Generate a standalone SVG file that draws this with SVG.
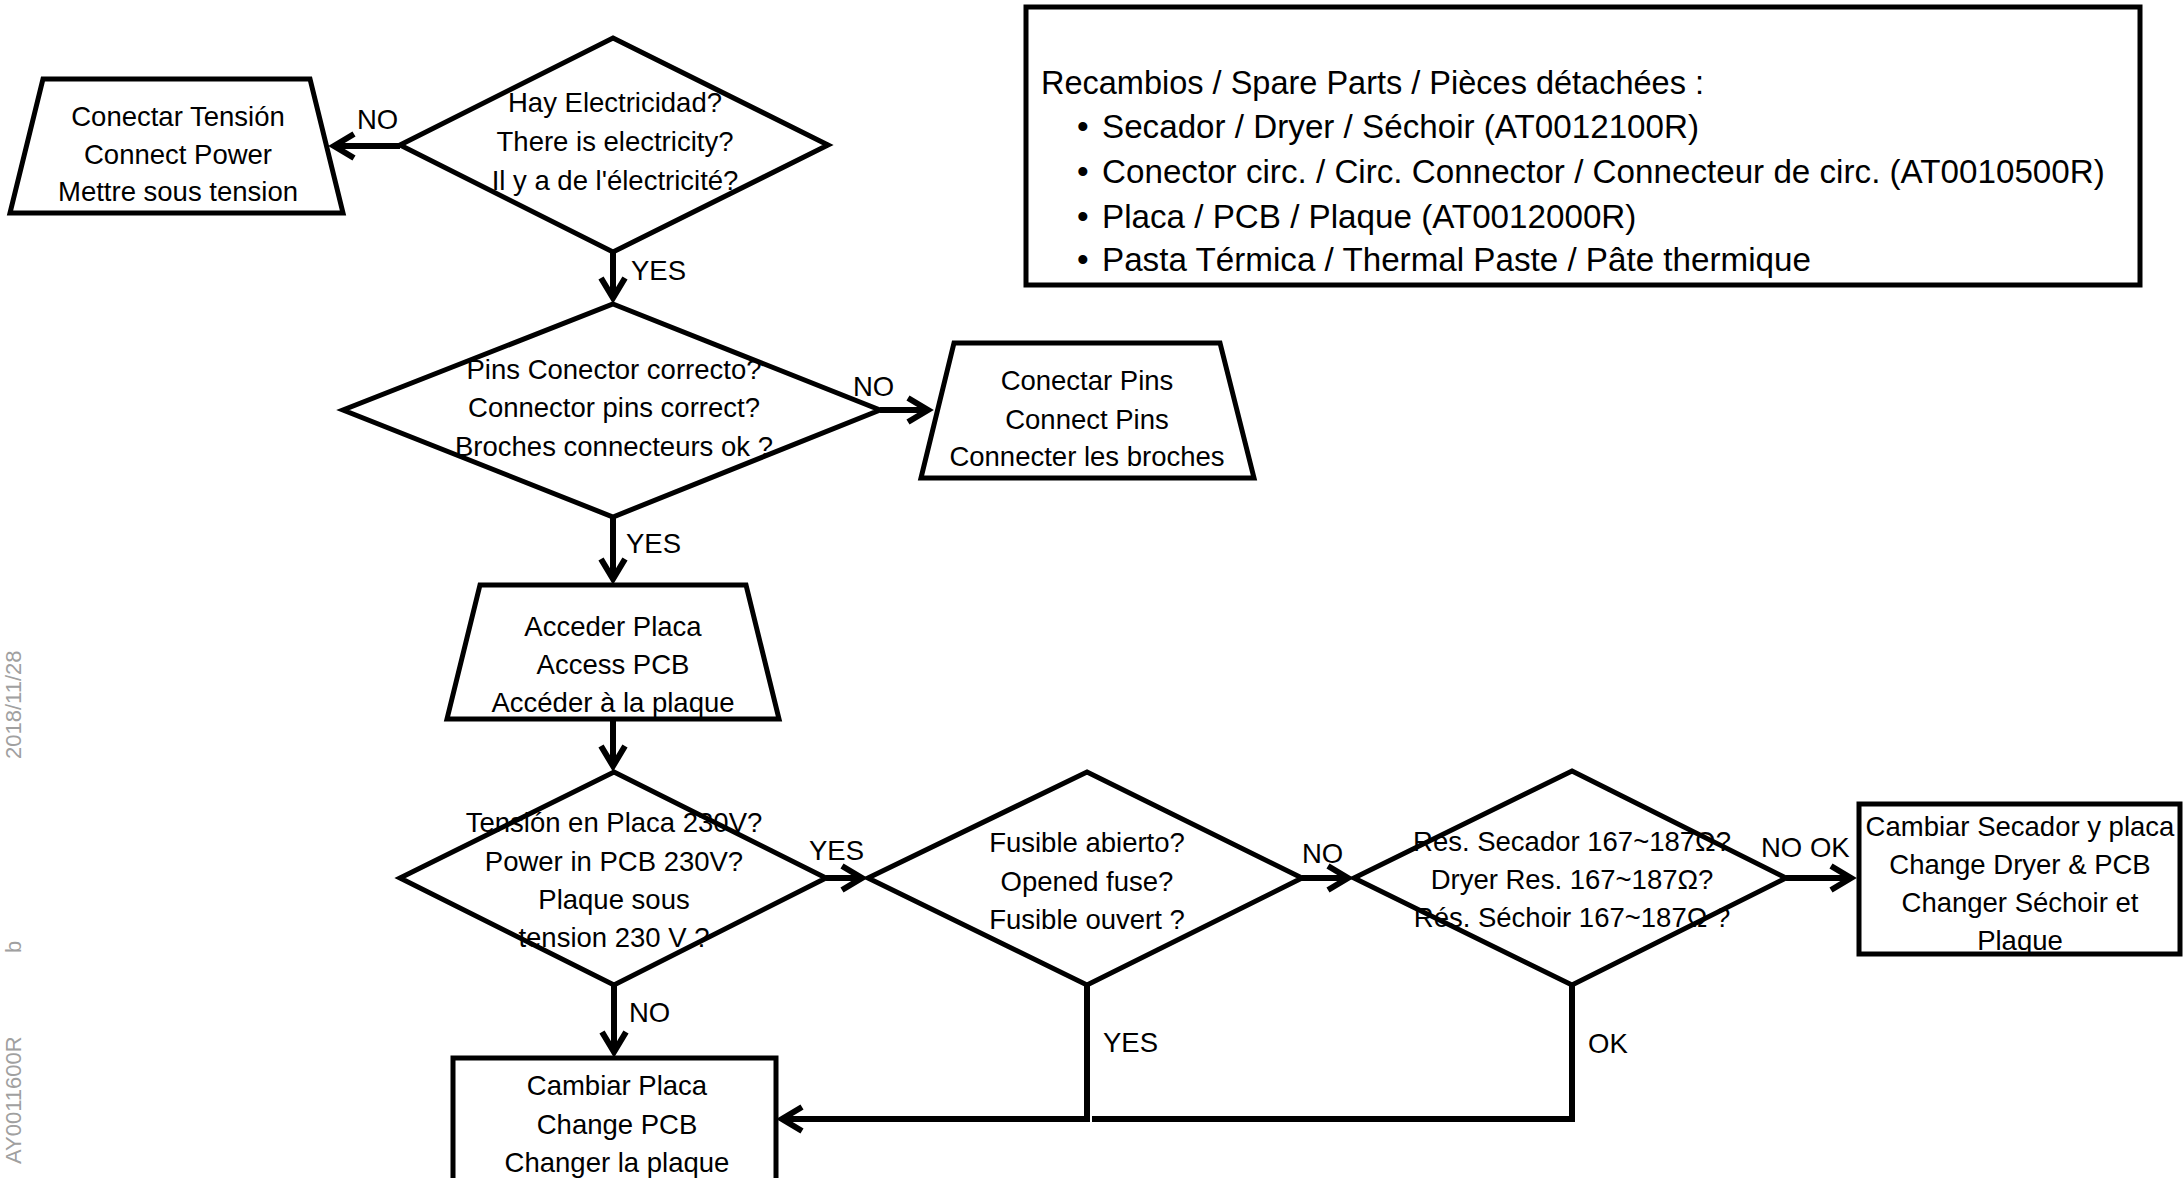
<svg xmlns="http://www.w3.org/2000/svg" width="2183" height="1178" viewBox="0 0 2183 1178">
<style>
.shape{fill:#fff;stroke:#000;stroke-width:5;stroke-linejoin:miter}
.t{font-family:"Liberation Sans",Arial,sans-serif;font-size:27.5px;fill:#000;text-anchor:middle}
.lbl{font-family:"Liberation Sans",Arial,sans-serif;font-size:27.5px;fill:#000}
.parts{font-family:"Liberation Sans",Arial,sans-serif;font-size:32.5px;fill:#000}
.bul{font-size:33.2px}
.conn{fill:none;stroke:#000;stroke-width:6}
.margin{font-family:"Liberation Sans",Arial,sans-serif;font-size:22px;fill:#a0a0a0}
</style>
<defs>
<marker id="arr" markerUnits="userSpaceOnUse" viewBox="0 0 26 28" markerWidth="26" markerHeight="28" refX="23" refY="14" orient="auto" overflow="visible">
<path d="M3,2 L23,14 L3,26" fill="none" stroke="#000" stroke-width="6"/>
</marker>
</defs>
<rect width="2183" height="1178" fill="#fff"/>

<g id="margin-ref" transform="translate(21,1164) rotate(-90)">
<text class="margin" x="0" y="0">AY0011600R</text>
<text class="margin" x="211" y="0">b</text>
<text class="margin" x="405" y="0">2018/11/28</text>
</g>

<g id="connectors">
<path class="conn" d="M400,146 H334" marker-end="url(#arr)"/>
<path class="conn" d="M613,252 V298" marker-end="url(#arr)"/>
<path class="conn" d="M880,410 H928" marker-end="url(#arr)"/>
<path class="conn" d="M613,517 V579" marker-end="url(#arr)"/>
<path class="conn" d="M613,719 V766" marker-end="url(#arr)"/>
<path class="conn" d="M826,878 H862" marker-end="url(#arr)"/>
<path class="conn" d="M1302,878 H1348" marker-end="url(#arr)"/>
<path class="conn" d="M1786,878 H1851" marker-end="url(#arr)"/>
<path class="conn" d="M614,985 V1052" marker-end="url(#arr)"/>
<path class="conn" d="M1087,985 V1119 H782" marker-end="url(#arr)"/>
<path class="conn" d="M1572,985 V1119 H1092"/>
<text class="lbl" x="357" y="129">NO</text>
<text class="lbl" x="631" y="280">YES</text>
<text class="lbl" x="853" y="396">NO</text>
<text class="lbl" x="626" y="553">YES</text>
<text class="lbl" x="809" y="860">YES</text>
<text class="lbl" x="629" y="1022">NO</text>
<text class="lbl" x="1103" y="1052">YES</text>
<text class="lbl" x="1302" y="863">NO</text>
<text class="lbl" x="1761" y="857">NO OK</text>
<text class="lbl" x="1588" y="1053">OK</text>
</g>

<g id="n-connect-power">
<polygon class="shape" points="43,79 310,79 343,213 10,213"/>
<text class="t" x="178" y="126">Conectar Tensión</text>
<text class="t" x="178" y="164">Connect Power</text>
<text class="t" x="178" y="201">Mettre sous tension</text>
</g>

<g id="n-electricity">
<polygon class="shape" points="613,38 828,145 613,252 400,145"/>
<text class="t" x="615" y="112">Hay Electricidad?</text>
<text class="t" x="615" y="151">There is electricity?</text>
<text class="t" x="615" y="190">Il y a de l'électricité?</text>
</g>

<g id="n-pins">
<polygon class="shape" points="613,304 880,410 613,517 343,410"/>
<text class="t" x="614" y="379">Pins Conector correcto?</text>
<text class="t" x="614" y="417">Connector pins correct?</text>
<text class="t" x="614" y="456">Broches connecteurs ok ?</text>
</g>

<g id="n-connect-pins">
<polygon class="shape" points="954,343 1220,343 1254,478 921,478"/>
<text class="t" x="1087" y="390">Conectar Pins</text>
<text class="t" x="1087" y="429">Connect Pins</text>
<text class="t" x="1087" y="466">Connecter les broches</text>
</g>

<g id="n-access-pcb">
<polygon class="shape" points="480,585 746,585 779,719 447,719"/>
<text class="t" x="613" y="636">Acceder Placa</text>
<text class="t" x="613" y="674">Access PCB</text>
<text class="t" x="613" y="712">Accéder à la plaque</text>
</g>

<g id="n-power-pcb">
<polygon class="shape" points="614,772 826,878 614,985 400,878"/>
<text class="t" x="614" y="832">Tensión en Placa 230V?</text>
<text class="t" x="614" y="871">Power in PCB 230V?</text>
<text class="t" x="614" y="909">Plaque sous</text>
<text class="t" x="614" y="947">tension 230 V ?</text>
</g>

<g id="n-fuse">
<polygon class="shape" points="1087,772 1302,878 1087,985 868,878"/>
<text class="t" x="1087" y="852">Fusible abierto?</text>
<text class="t" x="1087" y="891">Opened fuse?</text>
<text class="t" x="1087" y="929">Fusible ouvert ?</text>
</g>

<g id="n-dryer-res">
<polygon class="shape" points="1572,771 1786,878 1572,985 1354,878"/>
<text class="t" x="1572" y="851">Res. Secador 167~187Ω?</text>
<text class="t" x="1572" y="889">Dryer Res. 167~187Ω?</text>
<text class="t" x="1572" y="927">Rés. Séchoir 167~187Ω ?</text>
</g>

<g id="n-change-dryer">
<rect class="shape" x="1859" y="804" width="321" height="150"/>
<text class="t" x="2020" y="836">Cambiar Secador y placa</text>
<text class="t" x="2020" y="874">Change Dryer &amp; PCB</text>
<text class="t" x="2020" y="912">Changer Séchoir et</text>
<text class="t" x="2020" y="950">Plaque</text>
</g>

<g id="n-change-pcb">
<rect class="shape" x="453" y="1058" width="323" height="140"/>
<text class="t" x="617" y="1095">Cambiar Placa</text>
<text class="t" x="617" y="1134">Change PCB</text>
<text class="t" x="617" y="1172">Changer la plaque</text>
</g>

<g id="n-spare-parts">
<rect class="shape" x="1026" y="7" width="1114" height="278"/>
<text class="parts" x="1041" y="94">Recambios / Spare Parts / Pièces détachées :</text>
<text class="parts bul" y="138"><tspan x="1077">•</tspan><tspan x="1102">Secador / Dryer / Séchoir (AT0012100R)</tspan></text>
<text class="parts bul" y="183"><tspan x="1077">•</tspan><tspan x="1102">Conector circ. / Circ. Connector / Connecteur de circ. (AT0010500R)</tspan></text>
<text class="parts bul" y="228"><tspan x="1077">•</tspan><tspan x="1102">Placa / PCB / Plaque (AT0012000R)</tspan></text>
<text class="parts bul" y="271"><tspan x="1077">•</tspan><tspan x="1102">Pasta Térmica / Thermal Paste / Pâte thermique</tspan></text>
</g>
</svg>
